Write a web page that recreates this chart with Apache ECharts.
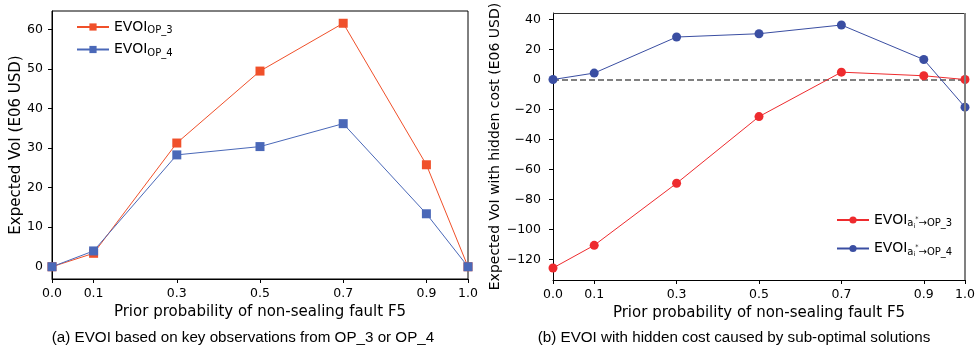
<!DOCTYPE html>
<html>
<head>
<meta charset="utf-8">
<script src="https://cdn.jsdelivr.net/npm/echarts@6/dist/echarts.min.js"></script>
<style>
  html, body { margin: 0; padding: 0; background: #fff; }
  #chart { width: 979px; height: 353px; }
</style>
</head>
<body>
<div id="chart"></div>
<script>
// Prior probability of the non-sealing fault F5
const priors = [0.0, 0.1, 0.3, 0.5, 0.7, 0.9, 1.0];
const xTicks = [0.0, 0.1, 0.3, 0.5, 0.7, 0.9, 1.0];

// (a) EVOI from key observations (E06 USD)
const evoiOP3 = [0, 3.4, 31.3, 49.5, 61.6, 25.8, 0];
const evoiOP4 = [0, 4.0, 28.3, 30.4, 36.2, 13.4, 0];

// (b) EVOI with hidden cost of sub-optimal solutions (E06 USD)
const hiddenOP3 = [-125.5, -110.4, -69.1, -24.7, 4.9, 2.5, 0];
const hiddenOP4 = [0, 4.3, 28.3, 30.5, 36.3, 13.3, -18.4];

const yTicksA = [0, 10, 20, 30, 40, 50, 60];
const yTicksB = [-120, -100, -80, -60, -40, -20, 0, 20, 40];

const FONT = 'DejaVu Sans';
const pairs = (ys) => priors.map((x, i) => [x, ys[i]]);

const chart = echarts.init(document.getElementById('chart'), null, { renderer: 'canvas' });

function xAxisFor(gridIndex) {
  return {
    type: 'value', gridIndex, min: 0, max: 1,
    name: 'Prior probability of non-sealing fault F5',
    nameLocation: 'middle', nameGap: 24,
    nameTextStyle: { fontFamily: FONT, fontSize: 15, color: '#000' },
    axisLine: { show: true, onZero: false, lineStyle: { color: '#000', width: 1 } },
    axisTick: { show: true, length: 4, customValues: xTicks, lineStyle: { color: '#000' } },
    axisLabel: {
      customValues: xTicks, margin: 8, fontFamily: FONT, fontSize: 12.5, color: '#000',
      formatter: (v) => v.toFixed(1)
    },
    splitLine: { show: false }
  };
}

function yAxisFor(gridIndex, min, max, ticks, name, gap, nameSize, labelMargin) {
  return {
    type: 'value', gridIndex, min, max,
    name, nameLocation: 'middle', nameGap: gap,
    nameTextStyle: { fontFamily: FONT, fontSize: nameSize, color: '#000' },
    axisLine: { show: true, onZero: false, lineStyle: { color: '#000', width: 1 } },
    axisTick: { show: true, length: 4, customValues: ticks, lineStyle: { color: '#000' } },
    axisLabel: {
      customValues: ticks, margin: labelMargin, fontFamily: FONT, fontSize: 12.5, color: '#000',
      formatter: (v) => String(v).replace('-', '\u2212')
    },
    splitLine: { show: false }
  };
}

const subRich = {
  m: { fontFamily: FONT, fontSize: 14, color: '#000' },
  s: { fontFamily: FONT, fontSize: 10, color: '#000', padding: [7, 0, 0, 0] },
  a: { fontFamily: FONT, fontSize: 10, color: '#000', padding: [7, 0, 0, 0] },
  i: { fontFamily: FONT, fontSize: 6.5, color: '#000', padding: [12, 0, 0, 0] },
  st: { fontFamily: FONT, fontSize: 6.5, color: '#000', padding: [0, 0, 2, 0] }
};

const legendLabel = {
  'EVOI OP_3': '{m|EVOI}{s|OP_3}',
  'EVOI OP_4': '{m|EVOI}{s|OP_4}',
  'EVOI a→OP_3': '{m|EVOI}{a|a}{i|i}{st|*}{s|\u2192OP_3}',
  'EVOI a→OP_4': '{m|EVOI}{a|a}{i|i}{st|*}{s|\u2192OP_4}'
};

const cA3 = '#f0502a', cA4 = '#4a68b8';
const cB3 = '#ee2b2e', cB4 = '#3a4ea2';

function lineSeries(name, data, color, symbol, size, xi, yi) {
  return {
    type: 'line', name, data: pairs(data), xAxisIndex: xi, yAxisIndex: yi,
    symbol, symbolSize: size, showSymbol: true,
    lineStyle: { color, width: 1 },
    itemStyle: { color, borderWidth: 0 },
    emphasis: { disabled: true },
    animation: false, z: 3
  };
}

const option = {
  backgroundColor: '#fff',
  animation: false,
  grid: [
    { left: 52, top: 11, right: 511, bottom: 74, outerBoundsMode: 'none', containLabel: false,
      show: true, borderColor: '#000', borderWidth: 1, backgroundColor: 'transparent' },
    { left: 553, top: 13, right: 14, bottom: 73, outerBoundsMode: 'none', containLabel: false }
  ],
  xAxis: [xAxisFor(0), xAxisFor(1)],
  yAxis: [
    yAxisFor(0, -3.1, 64.7, yTicksA, 'Expected VoI (E06 USD)', 27, 15, 9),
    yAxisFor(1, -133.5, 44.3, yTicksB, 'Expected VoI with hidden cost (E06 USD)', 40, 14, 12)
  ],
  legend: [
    {
      data: ['EVOI OP_3', 'EVOI OP_4'], orient: 'vertical', left: 71, top: 15,
      itemWidth: 32, itemHeight: 9, itemGap: 7,
      formatter: (n) => legendLabel[n], textStyle: { rich: subRich }
    },
    {
      data: ['EVOI a→OP_3', 'EVOI a→OP_4'], orient: 'vertical', left: 831, top: 208,
      itemWidth: 32, itemHeight: 9, itemGap: 12,
      formatter: (n) => legendLabel[n], textStyle: { rich: subRich }
    }
  ],
  series: [
    lineSeries('EVOI OP_3', evoiOP3, cA3, 'rect', 9, 0, 0),
    lineSeries('EVOI OP_4', evoiOP4, cA4, 'rect', 9, 0, 0),
    Object.assign(lineSeries('EVOI a→OP_3', hiddenOP3, cB3, 'circle', 9, 1, 1), {
      markLine: {
        silent: true, symbol: 'none', label: { show: false },
        lineStyle: { color: '#808080', type: [6, 3], width: 2 },
        data: [{ yAxis: 0 }], z: 2
      }
    }),
    lineSeries('EVOI a→OP_4', hiddenOP4, cB4, 'circle', 9, 1, 1)
  ],
  graphic: [
    // frame of panel (b): dark top, grey heavier right edge
    { type: 'line', shape: { x1: 553, y1: 13.5, x2: 965, y2: 13.5 }, style: { stroke: '#333', lineWidth: 1 }, z: 10 },
    { type: 'line', shape: { x1: 965, y1: 13, x2: 965, y2: 280 }, style: { stroke: '#808080', lineWidth: 2 }, z: 10 },
    {
      type: 'text', x: 243, y: 330,
      style: { text: '(a) EVOI based on key observations from OP_3 or OP_4', font: '15.2px "Liberation Sans"', fill: '#000', textAlign: 'center' }
    },
    {
      type: 'text', x: 734, y: 330,
      style: { text: '(b) EVOI with hidden cost caused by sub-optimal solutions', font: '15.2px "Liberation Sans"', fill: '#000', textAlign: 'center' }
    }
  ]
};

chart.setOption(option);
</script>
</body>
</html>
